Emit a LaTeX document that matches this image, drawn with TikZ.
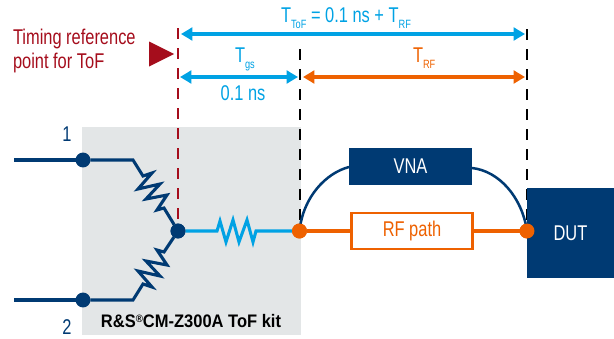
\documentclass[tikz,border=0pt]{standalone}
\usepackage{fontspec}
\setmainfont[FakeStretch=0.77]{Liberation Sans}
\newfontfamily\kitfont[FakeStretch=0.91]{Liberation Sans}
\usetikzlibrary{arrows.meta}
\definecolor{rsnavy}{HTML}{003A73}
\definecolor{rsblue}{HTML}{00A2E4}
\definecolor{rsorange}{HTML}{EE6100}
\definecolor{rsred}{HTML}{A50D1C}
\definecolor{rsgray}{HTML}{E3E6E7}
\newcommand{\subs}[1]{\raisebox{-5.2pt}{\fontsize{9pt}{9pt}\selectfont #1}}
\tikzset{
  x=0.75pt,y=-0.75pt,
  every node/.style={font=\fontsize{16pt}{17pt}\selectfont,inner sep=0pt,outer sep=0pt},
  dashline/.style={line width=1.4pt,dash pattern=on 8.2pt off 6.8pt},
  dim/.style={line width=2.3pt,{Triangle[length=8.5pt,width=9.5pt]}-{Triangle[length=8.5pt,width=9.5pt]}},
  dot/.style={circle,minimum size=11.2pt},
  navywire/.style={draw=rsnavy,line width=2.3pt,miter limit=10},
  bluewire/.style={draw=rsblue,line width=2.3pt},
  orangewire/.style={draw=rsorange,line width=2.3pt},
  lbl/.style={anchor=base},
  solidbox/.style={fill=rsnavy,text=white,align=center},
}
\begin{document}
\begin{tikzpicture}
\useasboundingbox (0,0) rectangle (614,339);
% kit background
\fill[rsgray] (82,127) rectangle (301,335);

% reference lines
\coordinate (redtop) at (178,28);
\coordinate (blacktopa) at (300,49);
\coordinate (blacktopb) at (527,29);
\coordinate (p1) at (14,160);
\coordinate (p2) at (14,300);

\node[dot,fill=rsnavy] (n1) at (83,160) {};
\node[dot,fill=rsnavy] (n2) at (83,300) {};
\node[dot,fill=rsnavy] (c) at (178,231) {};
\node[dot,fill=rsorange] (oa) at (299.5,231) {};
\node[dot,fill=rsorange] (ob) at (527,231) {};

\draw[dashline,draw=rsred] (redtop) -- (c.north);
\draw[dashline,draw=black] (blacktopa) -- (300,226);
\draw[dashline,draw=black] (blacktopb) -- (527,226);

% boxes
\node[solidbox,minimum width=92.25pt,minimum height=27.75pt] (vna) at (410.5,166.5) {VNA};
\node[solidbox,minimum width=65.25pt,minimum height=67.5pt] (dut) at (570.5,233) {DUT};
\node[draw=rsorange,line width=2.2pt,fill=white,text=rsorange,minimum width=91pt,minimum height=27pt] (rf) at (412,231) {RF path};

% VNA arcs
\draw[navywire,line width=1.9pt] (oa.center) .. controls (303,197) and (326,173) .. (vna.west |- 0,167);
\draw[navywire,line width=1.9pt] (vna.east |- 0,168) .. controls (499,171) and (522,197) .. (ob.center);

% RF path wires
\draw[orangewire] (oa) -- (rf);
\draw[orangewire] (rf) -- (ob);

% wires and resistors
\draw[navywire] (p1) -- (n1);
\draw[navywire] (p2) -- (n2);
\draw[navywire] (n1) -- (133,160) -- (143,176) -- (152,173) -- (138,189) -- (160,184) -- (146,199) -- (167,195) -- (157,210) -- (164,208) -- (c);
\draw[navywire] (n2) -- (133,300) -- (143,284) -- (152,287) -- (138,271) -- (160,276) -- (146,261) -- (167,265) -- (157,250) -- (164,252) -- (c);
\draw[bluewire] (c) -- (217,231) -- (220,221) -- (226,242) -- (233,220) -- (239,242) -- (247,220) -- (253,242) -- (256,231) -- (oa);
% redraw dots above wires
\node[dot,fill=rsnavy] at (c) {};
\node[dot,fill=rsorange] at (oa) {};
\node[dot,fill=rsorange] at (ob) {};

% dimension arrows
\coordinate (da1) at (181,34); \coordinate (da2) at (525,34);
\coordinate (db1) at (180,77); \coordinate (db2) at (298,77);
\coordinate (dc1) at (303,77); \coordinate (dc2) at (525,77);
\draw[dim,draw=rsblue,fill=rsblue] (da1) -- (da2);
\draw[dim,draw=rsblue,fill=rsblue] (db1) -- (db2);
\draw[dim,draw=rsorange,fill=rsorange] (dc1) -- (dc2);

% red triangle
\fill[rsred] (149,41.5) -- (174,54) -- (149,66.5) -- cycle;

% texts
\node[anchor=base west,text=rsred] (t1) at (13,44) {Timing reference};
\node[anchor=base west,text=rsred] (t2) at (13,68) {point for ToF};
\node[anchor=base west,text=rsblue] (ttof) at (281,22) {T\subs{ToF} = 0.1 ns + T\subs{RF}};
\node[anchor=base west,text=rsblue] (tgs) at (235,62) {T\subs{gs}};
\node[lbl,text=rsblue] (tns) at (243,100) {0.1 ns};
\node[anchor=base west,text=rsorange] (trf) at (413,62) {T\subs{RF}};
\node[lbl,text=rsnavy] (l1) at (67,141) {1};
\node[lbl,text=rsnavy] (l2) at (67,334) {2};
\node[lbl,font=\fontsize{13.6pt}{14pt}\kitfont\bfseries] (kit) at (191,327) {R\&S\raisebox{3.5pt}{\fontsize{8pt}{8pt}\selectfont ®}CM-Z300A ToF kit};
\end{tikzpicture}
\end{document}
